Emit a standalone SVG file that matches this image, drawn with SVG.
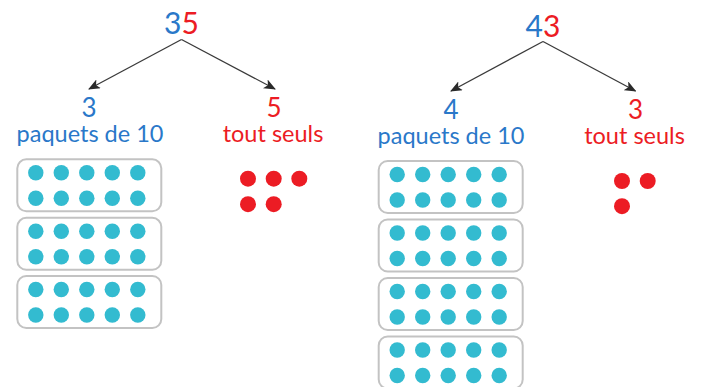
<svg xmlns="http://www.w3.org/2000/svg" width="705" height="387" viewBox="0 0 705 387">
  <style>
    text { font-family: Lato, "Open Sans", "Liberation Sans", sans-serif; text-anchor: middle; }
    .blue { fill: #2a78c9; }
    .red { fill: #ec1c24; }
    .big { font-size: 30px; }
    .mid { font-size: 26px; }
    .lbl { font-size: 23.5px; }
    .box { fill: #ffffff; stroke: #c3c3c3; stroke-width: 2; }
    .d { fill: #33bbd0; }
    .r { fill: #ec1c24; }
    .arrow { stroke: #3a3a3a; stroke-width: 1.3; fill: none; marker-end: url(#ah); }
  </style>
  <defs>
    <marker id="ah" viewBox="0 0 12 10" refX="11" refY="5" markerWidth="12" markerHeight="10" markerUnits="userSpaceOnUse" orient="auto">
      <path d="M0,0 L12,5 L0,10 L3,5 Z" fill="#2a2a2a"/>
    </marker>
    <g id="pack">
      <rect class="box" x="0" y="0" width="144" height="52" rx="9"/>
      <circle class="d" cx="18.5" cy="13.5" r="7.7"/>
      <circle class="d" cx="44" cy="13.5" r="7.7"/>
      <circle class="d" cx="69.5" cy="13.5" r="7.7"/>
      <circle class="d" cx="95" cy="13.5" r="7.7"/>
      <circle class="d" cx="120.5" cy="13.5" r="7.7"/>
      <circle class="d" cx="18.5" cy="39" r="7.7"/>
      <circle class="d" cx="44" cy="39" r="7.7"/>
      <circle class="d" cx="69.5" cy="39" r="7.7"/>
      <circle class="d" cx="95" cy="39" r="7.7"/>
      <circle class="d" cx="120.5" cy="39" r="7.7"/>
    </g>
  </defs>

  <g id="connectors">
    <line class="arrow" x1="181.5" y1="39.5" x2="89" y2="89"/>
    <line class="arrow" x1="181.5" y1="39.5" x2="275" y2="89"/>
    <line class="arrow" x1="543" y1="41.5" x2="451" y2="91"/>
    <line class="arrow" x1="543" y1="41.5" x2="635.5" y2="91"/>
  </g>

  <g id="n35">
    <text class="big" x="181.5" y="34"><tspan class="blue">3</tspan><tspan class="red">5</tspan></text>
  </g>
  <g id="tens35">
    <text class="mid blue" x="89" y="117">3</text>
    <text class="lbl blue" x="90" y="142">paquets de 10</text>
  </g>
  <g id="ones35">
    <text class="mid red" x="274" y="117">5</text>
    <text class="lbl red" x="273" y="142">tout seuls</text>
  </g>
  <g id="packs35">
    <use href="#pack" x="17.3" y="159.3"/>
    <use href="#pack" x="17.3" y="217.8"/>
    <use href="#pack" x="17.3" y="276"/>
  </g>
  <g id="dots35">
    <circle class="r" cx="248" cy="178.7" r="8"/>
    <circle class="r" cx="273.7" cy="178.7" r="8"/>
    <circle class="r" cx="299.3" cy="178.7" r="8"/>
    <circle class="r" cx="248" cy="204.2" r="8"/>
    <circle class="r" cx="273.7" cy="204.2" r="8"/>
  </g>

  <g id="n43">
    <text class="big" x="543" y="36.5"><tspan class="blue">4</tspan><tspan class="red">3</tspan></text>
  </g>
  <g id="tens43">
    <text class="mid blue" x="451" y="119">4</text>
    <text class="lbl blue" x="451" y="144">paquets de 10</text>
  </g>
  <g id="ones43">
    <text class="mid red" x="635.5" y="119">3</text>
    <text class="lbl red" x="634.5" y="144">tout seuls</text>
  </g>
  <g id="packs43">
    <use href="#pack" x="378.7" y="161"/>
    <use href="#pack" x="378.7" y="219.5"/>
    <use href="#pack" x="378.7" y="278"/>
    <use href="#pack" x="378.7" y="336.5"/>
  </g>
  <g id="dots43">
    <circle class="r" cx="622" cy="181" r="8"/>
    <circle class="r" cx="647.7" cy="181" r="8"/>
    <circle class="r" cx="622" cy="206.2" r="8"/>
  </g>
</svg>
